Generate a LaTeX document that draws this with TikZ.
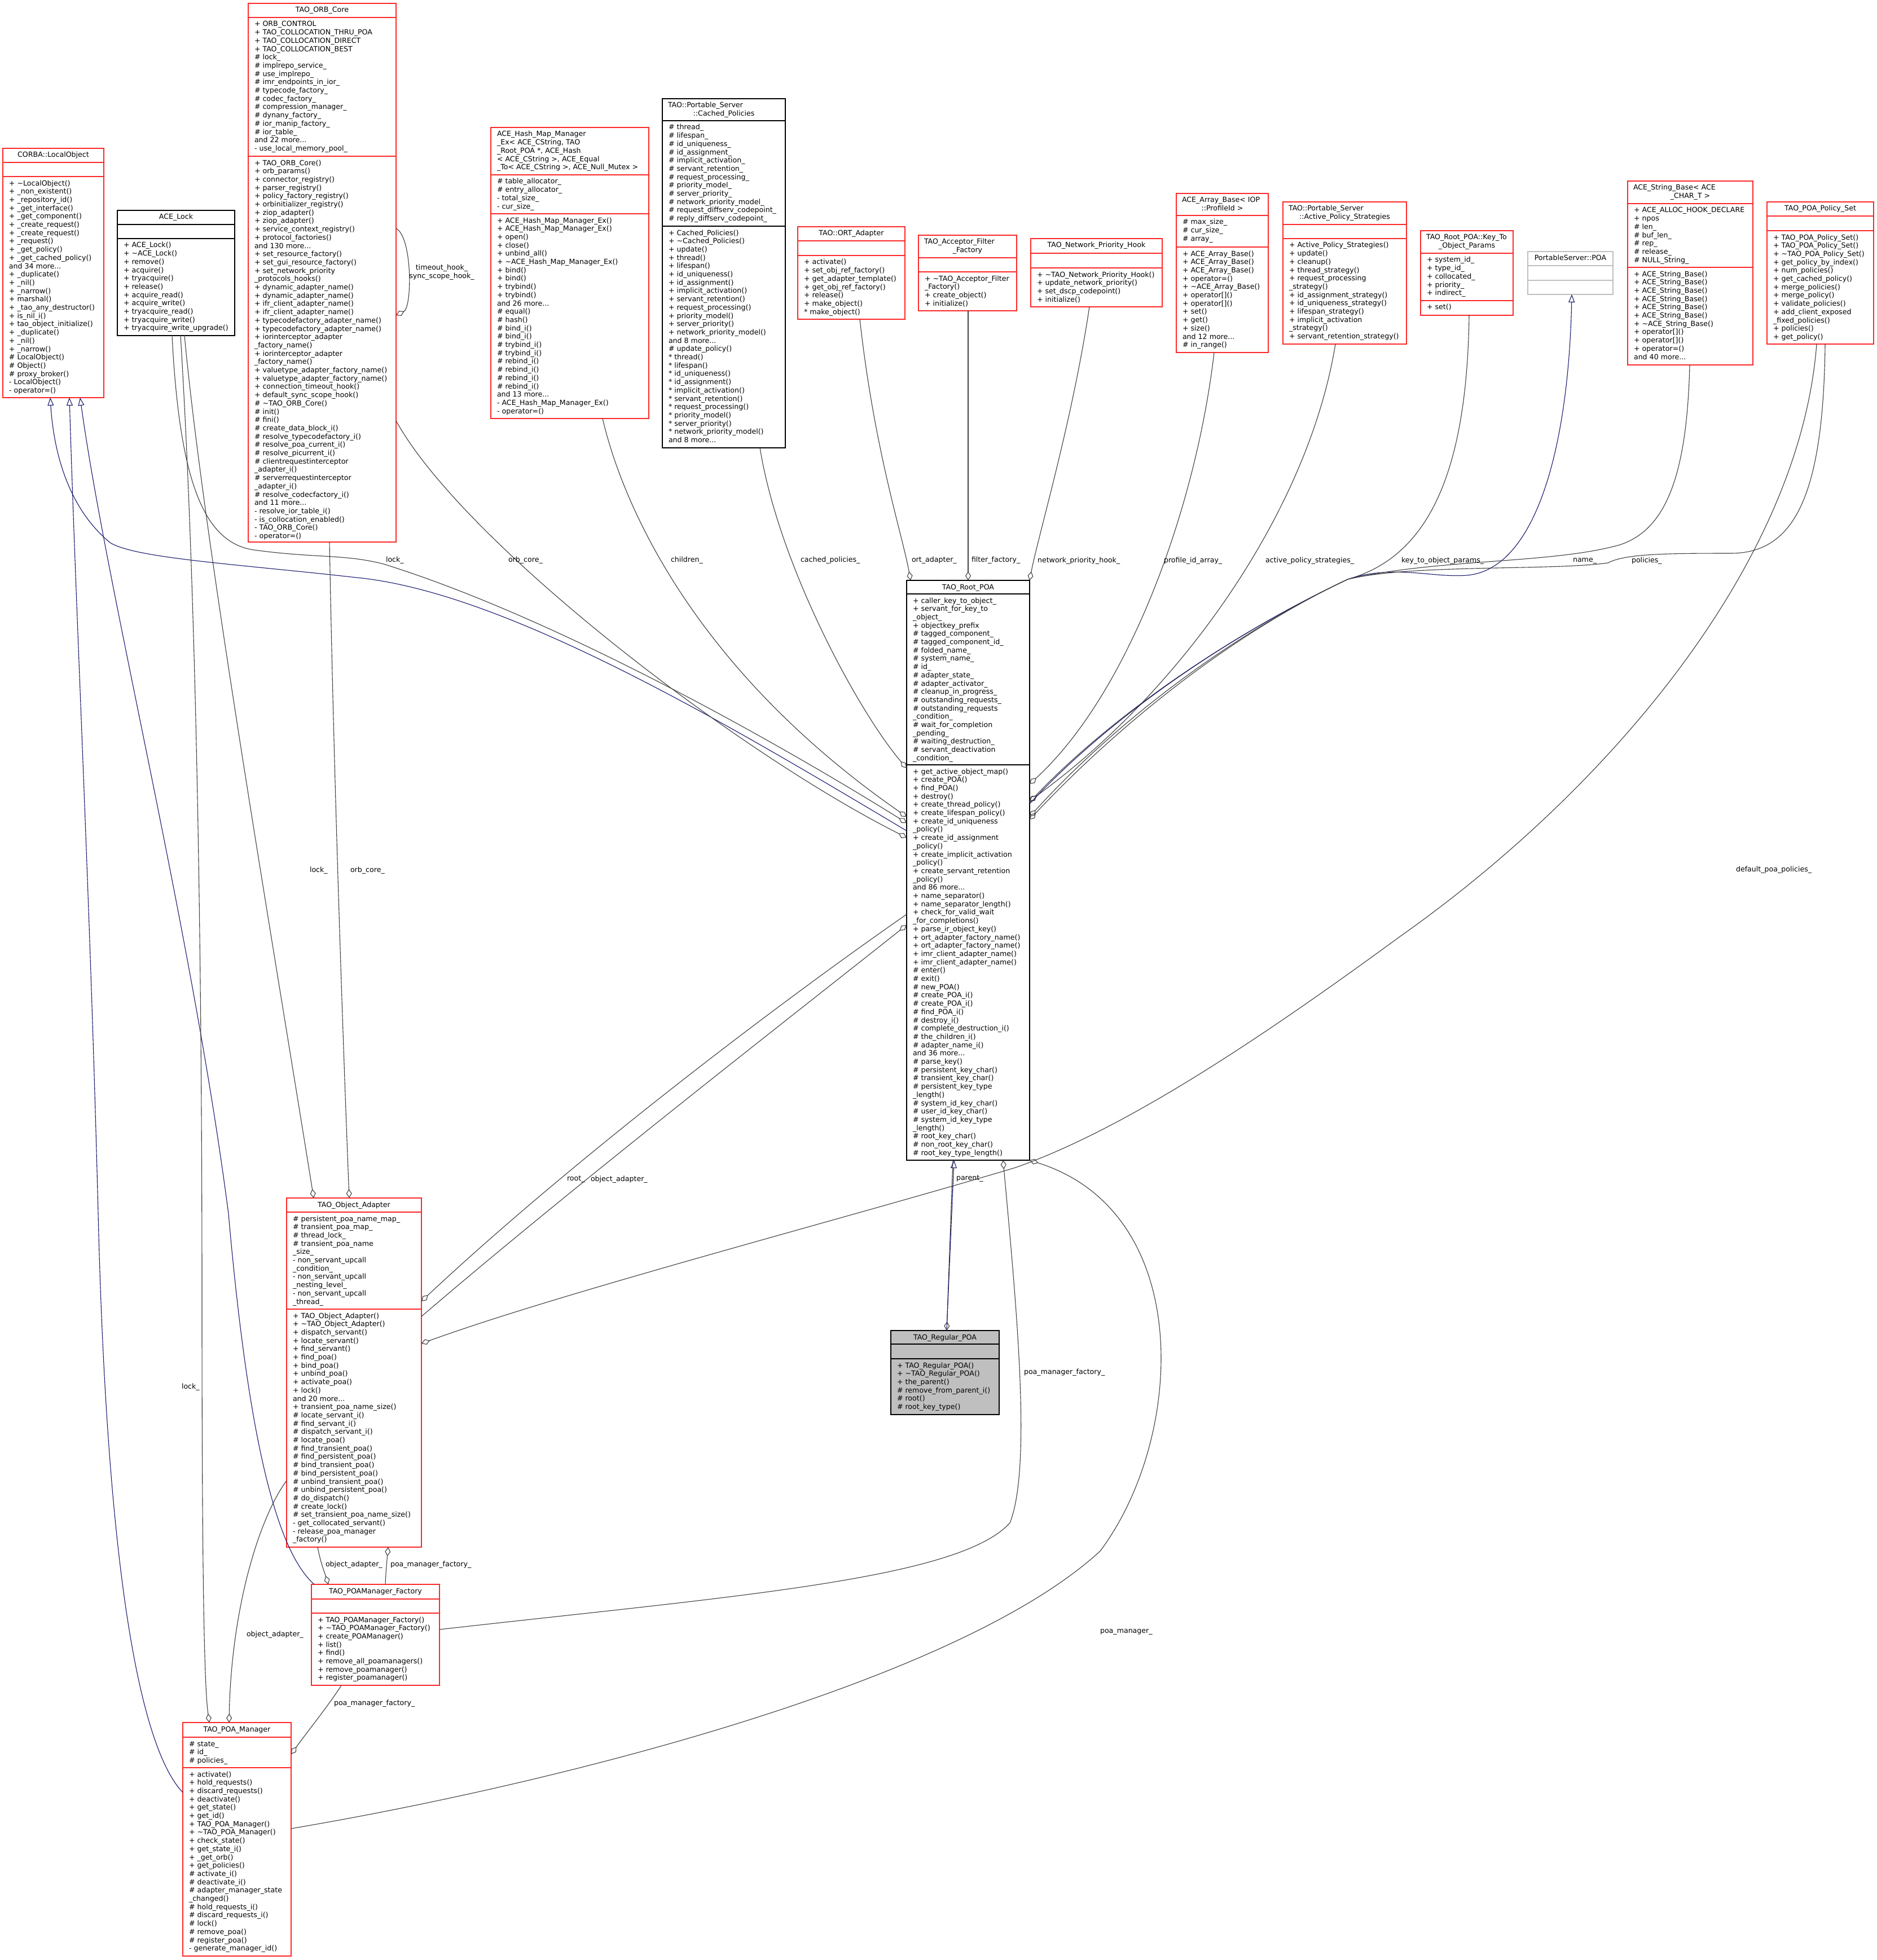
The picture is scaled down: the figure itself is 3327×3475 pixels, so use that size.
\documentclass[tikz,border=0pt]{standalone}
\usepackage{fontspec}
\setmainfont{DejaVu Sans}
\usetikzlibrary{arrows.meta,calc}
\definecolor{boxred}{RGB}{255,40,40}
\definecolor{edgegray}{RGB}{64,64,64}
\definecolor{inhblue}{RGB}{25,25,112}
\definecolor{greybox}{RGB}{191,191,191}
\newcommand\dgfont{\fontsize{12.6}{14.7}\selectfont}
\newcommand\tld{\textasciitilde}
\newcommand\umlbox[9]{%
  \node[#2, anchor=north west, minimum width={(#4-#3)*1pt}, minimum height={(#8-#5)*1pt}] (#1) at (#3,#5) {};
  \draw[#9] (#3,#6) -- (#4,#6) (#3,#7) -- (#4,#7);%
}
\newcommand\txtsec[4]{\node[txt, anchor=north west] (#1) at (#2+11,#3+5.7) {\strut #4};}
\newcommand\ttlone[5]{\node[txt, anchor=north] (#1) at ({(#2+#3)/2},#4+5.7) {\strut #5};}
\newcommand\ttltwo[6]{\node[txt, anchor=north west] (#1a) at (#2+10,#4+5.7) {\strut #5};
  \node[txt, anchor=north] (#1b) at ({(#2+#3)/2},#4+20.4) {\strut #6};}
\newcommand\elab[4]{\node[txt, anchor=west] (#1) at (#2,#3) {#4};}
\begin{document}
\begin{tikzpicture}[x=1pt,y=-1pt,
  txt/.style={font=\dgfont, inner sep=0pt, outer sep=0pt, align=left, text=black},
  redbox/.style={draw=boxred, line width=1.5pt, fill=white, inner sep=0pt, outer sep=0pt},
  blkbox/.style={draw=black, line width=1.5pt, fill=white, inner sep=0pt, outer sep=0pt},
  grybox/.style={draw=greybox, line width=1.5pt, fill=white, inner sep=0pt, outer sep=0pt},
  regbox/.style={draw=black, line width=1.5pt, fill=greybox, inner sep=0pt, outer sep=0pt},
  secred/.style={draw=boxred, line width=1.5pt},
  secblk/.style={draw=black, line width=1.5pt},
  secgry/.style={draw=greybox, line width=1.5pt},
  use/.style={draw=edgegray, line width=1.1pt},
  agg/.style={use, -{Diamond[open, length=16pt, width=10pt]}},
  inh/.style={draw=inhblue, line width=1.1pt, -{Triangle[open, length=14pt, width=11pt]}}]
\useasboundingbox (0,0) rectangle (3327,3475);
\fill[white] (0,0) rectangle (3327,3475);

% ---------------- boxes ----------------
\umlbox{lo}{redbox}{5}{184}{263}{288}{313}{705}{secred}
\ttlone{lo-t}{5}{184}{263}{CORBA::LocalObject}
\txtsec{lo-m}{5}{313}{+ \tld{}LocalObject()\\+ \_non\_existent()\\+ \_repository\_id()\\+ \_get\_interface()\\+ \_get\_component()\\+ \_create\_request()\\+ \_create\_request()\\+ \_request()\\+ \_get\_policy()\\+ \_get\_cached\_policy()\\and 34 more...\\+ \_duplicate()\\+ \_nil()\\+ \_narrow()\\+ marshal()\\+ \_tao\_any\_destructor()\\+ is\_nil\_i()\\+ tao\_object\_initialize()\\+ \_duplicate()\\+ \_nil()\\+ \_narrow()\\\# LocalObject()\\\# Object()\\\# proxy\_broker()\\- LocalObject()\\- operator=()}

\umlbox{lock}{blkbox}{208}{416}{373}{398}{423}{595}{secblk}
\ttlone{lock-t}{208}{416}{373}{ACE\_Lock}
\txtsec{lock-m}{208}{423}{+ ACE\_Lock()\\+ \tld{}ACE\_Lock()\\+ remove()\\+ acquire()\\+ tryacquire()\\+ release()\\+ acquire\_read()\\+ acquire\_write()\\+ tryacquire\_read()\\+ tryacquire\_write()\\+ tryacquire\_write\_upgrade()}

\umlbox{orb}{redbox}{440}{702}{6}{31}{277}{961}{secred}
\ttlone{orb-t}{440}{702}{6}{TAO\_ORB\_Core}
\txtsec{orb-a}{440}{31}{+ ORB\_CONTROL\\+ TAO\_COLLOCATION\_THRU\_POA\\+ TAO\_COLLOCATION\_DIRECT\\+ TAO\_COLLOCATION\_BEST\\\# lock\_\\\# implrepo\_service\_\\\# use\_implrepo\_\\\# imr\_endpoints\_in\_ior\_\\\# typecode\_factory\_\\\# codec\_factory\_\\\# compression\_manager\_\\\# dynany\_factory\_\\\# ior\_manip\_factory\_\\\# ior\_table\_\\and 22 more...\\- use\_local\_memory\_pool\_}
\txtsec{orb-m}{440}{277}{+ TAO\_ORB\_Core()\\+ orb\_params()\\+ connector\_registry()\\+ parser\_registry()\\+ policy\_factory\_registry()\\+ orbinitializer\_registry()\\+ ziop\_adapter()\\+ ziop\_adapter()\\+ service\_context\_registry()\\+ protocol\_factories()\\and 130 more...\\+ set\_resource\_factory()\\+ set\_gui\_resource\_factory()\\+ set\_network\_priority\\\_protocols\_hooks()\\+ dynamic\_adapter\_name()\\+ dynamic\_adapter\_name()\\+ ifr\_client\_adapter\_name()\\+ ifr\_client\_adapter\_name()\\+ typecodefactory\_adapter\_name()\\+ typecodefactory\_adapter\_name()\\+ iorinterceptor\_adapter\\\_factory\_name()\\+ iorinterceptor\_adapter\\\_factory\_name()\\+ valuetype\_adapter\_factory\_name()\\+ valuetype\_adapter\_factory\_name()\\+ connection\_timeout\_hook()\\+ default\_sync\_scope\_hook()\\\# \tld{}TAO\_ORB\_Core()\\\# init()\\\# fini()\\\# create\_data\_block\_i()\\\# resolve\_typecodefactory\_i()\\\# resolve\_poa\_current\_i()\\\# resolve\_picurrent\_i()\\\# clientrequestinterceptor\\\_adapter\_i()\\\# serverrequestinterceptor\\\_adapter\_i()\\\# resolve\_codecfactory\_i()\\and 11 more...\\- resolve\_ior\_table\_i()\\- is\_collocation\_enabled()\\- TAO\_ORB\_Core()\\- operator=()}

\umlbox{hash}{redbox}{870}{1150}{226}{310}{379}{742}{secred}
\node[txt, anchor=north west] (hash-t) at (881,231.7) {\strut ACE\_Hash\_Map\_Manager\\\_Ex< ACE\_CString, TAO\\\_Root\_POA *, ACE\_Hash\\< ACE\_CString >, ACE\_Equal\\\_To< ACE\_CString >, ACE\_Null\_Mutex >};
\txtsec{hash-a}{870}{310}{\# table\_allocator\_\\\# entry\_allocator\_\\- total\_size\_\\- cur\_size\_}
\txtsec{hash-m}{870}{379}{+ ACE\_Hash\_Map\_Manager\_Ex()\\+ ACE\_Hash\_Map\_Manager\_Ex()\\+ open()\\+ close()\\+ unbind\_all()\\+ \tld{}ACE\_Hash\_Map\_Manager\_Ex()\\+ bind()\\+ bind()\\+ trybind()\\+ trybind()\\and 26 more...\\\# equal()\\\# hash()\\\# bind\_i()\\\# bind\_i()\\\# trybind\_i()\\\# trybind\_i()\\\# rebind\_i()\\\# rebind\_i()\\\# rebind\_i()\\\# rebind\_i()\\and 13 more...\\- ACE\_Hash\_Map\_Manager\_Ex()\\- operator=()}

\umlbox{cached}{blkbox}{1174}{1392}{175}{214}{401}{794}{secblk}
\ttltwo{cached-t}{1174}{1392}{175}{TAO::Portable\_Server}{::Cached\_Policies}
\txtsec{cached-a}{1174}{214}{\# thread\_\\\# lifespan\_\\\# id\_uniqueness\_\\\# id\_assignment\_\\\# implicit\_activation\_\\\# servant\_retention\_\\\# request\_processing\_\\\# priority\_model\_\\\# server\_priority\_\\\# network\_priority\_model\_\\\# request\_diffserv\_codepoint\_\\\# reply\_diffserv\_codepoint\_}
\txtsec{cached-m}{1174}{401}{+ Cached\_Policies()\\+ \tld{}Cached\_Policies()\\+ update()\\+ thread()\\+ lifespan()\\+ id\_uniqueness()\\+ id\_assignment()\\+ implicit\_activation()\\+ servant\_retention()\\+ request\_processing()\\+ priority\_model()\\+ server\_priority()\\+ network\_priority\_model()\\and 8 more...\\\# update\_policy()\\{*} thread()\\{*} lifespan()\\{*} id\_uniqueness()\\{*} id\_assignment()\\{*} implicit\_activation()\\{*} servant\_retention()\\{*} request\_processing()\\{*} priority\_model()\\{*} server\_priority()\\{*} network\_priority\_model()\\and 8 more...}

\umlbox{ort}{redbox}{1414}{1604}{402}{427}{453}{566}{secred}
\ttlone{ort-t}{1414}{1604}{402}{TAO::ORT\_Adapter}
\txtsec{ort-m}{1414}{453}{+ activate()\\+ set\_obj\_ref\_factory()\\+ get\_adapter\_template()\\+ get\_obj\_ref\_factory()\\+ release()\\+ make\_object()\\{*} make\_object()}

\umlbox{filter}{redbox}{1628}{1802}{417}{457}{482}{551}{secred}
\ttltwo{filter-t}{1628}{1802}{417}{TAO\_Acceptor\_Filter}{\_Factory}
\txtsec{filter-m}{1628}{482}{+ \tld{}TAO\_Acceptor\_Filter\\\_Factory()\\+ create\_object()\\+ initialize()}

\umlbox{nph}{redbox}{1827}{2060}{423}{449}{475}{544}{secred}
\ttlone{nph-t}{1827}{2060}{423}{TAO\_Network\_Priority\_Hook}
\txtsec{nph-m}{1827}{475}{+ \tld{}TAO\_Network\_Priority\_Hook()\\+ update\_network\_priority()\\+ set\_dscp\_codepoint()\\+ initialize()}

\umlbox{array}{redbox}{2085}{2248}{343}{382}{438}{625}{secred}
\ttltwo{array-t}{2085}{2248}{343}{ACE\_Array\_Base< IOP}{::ProfileId >}
\txtsec{array-a}{2085}{382}{\# max\_size\_\\\# cur\_size\_\\\# array\_}
\txtsec{array-m}{2085}{438}{+ ACE\_Array\_Base()\\+ ACE\_Array\_Base()\\+ ACE\_Array\_Base()\\+ operator=()\\+ \tld{}ACE\_Array\_Base()\\+ operator[]()\\+ operator[]()\\+ set()\\+ get()\\+ size()\\and 12 more...\\\# in\_range()}

\umlbox{aps}{redbox}{2274}{2493}{358}{398}{423}{610}{secred}
\ttltwo{aps-t}{2274}{2493}{358}{TAO::Portable\_Server}{::Active\_Policy\_Strategies}
\txtsec{aps-m}{2274}{423}{+ Active\_Policy\_Strategies()\\+ update()\\+ cleanup()\\+ thread\_strategy()\\+ request\_processing\\\_strategy()\\+ id\_assignment\_strategy()\\+ id\_uniqueness\_strategy()\\+ lifespan\_strategy()\\+ implicit\_activation\\\_strategy()\\+ servant\_retention\_strategy()}

\umlbox{keyto}{redbox}{2518}{2682}{409}{449}{533}{559}{secred}
\ttltwo{keyto-t}{2518}{2682}{409}{TAO\_Root\_POA::Key\_To}{\_Object\_Params}
\txtsec{keyto-a}{2518}{449}{+ system\_id\_\\+ type\_id\_\\+ collocated\_\\+ priority\_\\+ indirect\_}
\txtsec{keyto-m}{2518}{533}{+ set()}

\umlbox{psp}{grybox}{2708}{2859}{446}{471}{497}{522}{secgry}
\ttlone{psp-t}{2708}{2859}{446}{PortableServer::POA}

\umlbox{str}{redbox}{2885}{3107}{321}{361}{474}{647}{secred}
\ttltwo{str-t}{2885}{3107}{321}{ACE\_String\_Base< ACE}{\_CHAR\_T >}
\txtsec{str-a}{2885}{361}{+ ACE\_ALLOC\_HOOK\_DECLARE\\+ npos\\\# len\_\\\# buf\_len\_\\\# rep\_\\\# release\_\\\# NULL\_String\_}
\txtsec{str-m}{2885}{474}{+ ACE\_String\_Base()\\+ ACE\_String\_Base()\\+ ACE\_String\_Base()\\+ ACE\_String\_Base()\\+ ACE\_String\_Base()\\+ ACE\_String\_Base()\\+ \tld{}ACE\_String\_Base()\\+ operator[]()\\+ operator[]()\\+ operator=()\\and 40 more...}

\umlbox{pset}{redbox}{3132}{3321}{358}{383}{409}{610}{secred}
\ttlone{pset-t}{3132}{3321}{358}{TAO\_POA\_Policy\_Set}
\txtsec{pset-m}{3132}{409}{+ TAO\_POA\_Policy\_Set()\\+ TAO\_POA\_Policy\_Set()\\+ \tld{}TAO\_POA\_Policy\_Set()\\+ get\_policy\_by\_index()\\+ num\_policies()\\+ get\_cached\_policy()\\+ merge\_policies()\\+ merge\_policy()\\+ validate\_policies()\\+ add\_client\_exposed\\\_fixed\_policies()\\+ policies()\\+ get\_policy()}

\umlbox{root}{blkbox}{1607}{1825}{1029}{1053}{1356}{2057}{secblk}
\ttlone{root-t}{1607}{1825}{1029}{TAO\_Root\_POA}
\txtsec{root-a}{1607}{1053}{+ caller\_key\_to\_object\_\\+ servant\_for\_key\_to\\\_object\_\\+ objectkey\_prefix\\\# tagged\_component\_\\\# tagged\_component\_id\_\\\# folded\_name\_\\\# system\_name\_\\\# id\_\\\# adapter\_state\_\\\# adapter\_activator\_\\\# cleanup\_in\_progress\_\\\# outstanding\_requests\_\\\# outstanding\_requests\\\_condition\_\\\# wait\_for\_completion\\\_pending\_\\\# waiting\_destruction\_\\\# servant\_deactivation\\\_condition\_}
\txtsec{root-m}{1607}{1356}{+ get\_active\_object\_map()\\+ create\_POA()\\+ find\_POA()\\+ destroy()\\+ create\_thread\_policy()\\+ create\_lifespan\_policy()\\+ create\_id\_uniqueness\\\_policy()\\+ create\_id\_assignment\\\_policy()\\+ create\_implicit\_activation\\\_policy()\\+ create\_servant\_retention\\\_policy()\\and 86 more...\\+ name\_separator()\\+ name\_separator\_length()\\+ check\_for\_valid\_wait\\\_for\_completions()\\+ parse\_ir\_object\_key()\\+ ort\_adapter\_factory\_name()\\+ ort\_adapter\_factory\_name()\\+ imr\_client\_adapter\_name()\\+ imr\_client\_adapter\_name()\\\# enter()\\\# exit()\\\# new\_POA()\\\# create\_POA\_i()\\\# create\_POA\_i()\\\# find\_POA\_i()\\\# destroy\_i()\\\# complete\_destruction\_i()\\\# the\_children\_i()\\\# adapter\_name\_i()\\and 36 more...\\\# parse\_key()\\\# persistent\_key\_char()\\\# transient\_key\_char()\\\# persistent\_key\_type\\\_length()\\\# system\_id\_key\_char()\\\# user\_id\_key\_char()\\\# system\_id\_key\_type\\\_length()\\\# root\_key\_char()\\\# non\_root\_key\_char()\\\# root\_key\_type\_length()}

\umlbox{oa}{redbox}{508}{747}{2124}{2149}{2321}{2743}{secred}
\ttlone{oa-t}{508}{747}{2124}{TAO\_Object\_Adapter}
\txtsec{oa-a}{508}{2149}{\# persistent\_poa\_name\_map\_\\\# transient\_poa\_map\_\\\# thread\_lock\_\\\# transient\_poa\_name\\\_size\_\\- non\_servant\_upcall\\\_condition\_\\- non\_servant\_upcall\\\_nesting\_level\_\\- non\_servant\_upcall\\\_thread\_}
\txtsec{oa-m}{508}{2321}{+ TAO\_Object\_Adapter()\\+ \tld{}TAO\_Object\_Adapter()\\+ dispatch\_servant()\\+ locate\_servant()\\+ find\_servant()\\+ find\_poa()\\+ bind\_poa()\\+ unbind\_poa()\\+ activate\_poa()\\+ lock()\\and 20 more...\\+ transient\_poa\_name\_size()\\\# locate\_servant\_i()\\\# find\_servant\_i()\\\# dispatch\_servant\_i()\\\# locate\_poa()\\\# find\_transient\_poa()\\\# find\_persistent\_poa()\\\# bind\_transient\_poa()\\\# bind\_persistent\_poa()\\\# unbind\_transient\_poa()\\\# unbind\_persistent\_poa()\\\# do\_dispatch()\\\# create\_lock()\\\# set\_transient\_poa\_name\_size()\\- get\_collocated\_servant()\\- release\_poa\_manager\\\_factory()}

\umlbox{fac}{redbox}{552}{779}{2809}{2835}{2860}{2988}{secred}
\ttlone{fac-t}{552}{779}{2809}{TAO\_POAManager\_Factory}
\txtsec{fac-m}{552}{2860}{+ TAO\_POAManager\_Factory()\\+ \tld{}TAO\_POAManager\_Factory()\\+ create\_POAManager()\\+ list()\\+ find()\\+ remove\_all\_poamanagers()\\+ remove\_poamanager()\\+ register\_poamanager()}

\umlbox{pm}{redbox}{324}{516}{3054}{3080}{3134}{3468}{secred}
\ttlone{pm-t}{324}{516}{3054}{TAO\_POA\_Manager}
\txtsec{pm-a}{324}{3080}{\# state\_\\\# id\_\\\# policies\_}
\txtsec{pm-m}{324}{3134}{+ activate()\\+ hold\_requests()\\+ discard\_requests()\\+ deactivate()\\+ get\_state()\\+ get\_id()\\+ TAO\_POA\_Manager()\\+ \tld{}TAO\_POA\_Manager()\\+ check\_state()\\+ get\_state\_i()\\+ \_get\_orb()\\+ get\_policies()\\\# activate\_i()\\\# deactivate\_i()\\\# adapter\_manager\_state\\\_changed()\\\# hold\_requests\_i()\\\# discard\_requests\_i()\\\# lock()\\\# remove\_poa()\\\# register\_poa()\\- generate\_manager\_id()}

\umlbox{reg}{regbox}{1579}{1771}{2359}{2383}{2409}{2508}{secblk}
\ttlone{reg-t}{1579}{1771}{2359}{TAO\_Regular\_POA}
\txtsec{reg-m}{1579}{2409}{+ TAO\_Regular\_POA()\\+ \tld{}TAO\_Regular\_POA()\\+ the\_parent()\\\# remove\_from\_parent\_i()\\\# root()\\\# root\_key\_type()}

% ---------------- connectors ----------------
\draw[agg] (orb.east |- 0,405) .. controls (731,420) and (731,545) .. (orb.east |- 0,559);
\draw[agg] (305,0 |- lock.south) .. controls (318,850) and (360,962) .. (450,975) .. controls (560,990) and (610,982) .. (680,1000) .. controls (1000,1100) and (1400,1330) .. (root.west |- 0,1459);
\draw[inh] (root.west |- 0,1473) .. controls (1300,1290) and (900,1050) .. (632,1024) .. controls (420,1000) and (240,990) .. (195,962) .. controls (120,900) and (95,800) .. (89,0 |- lo.south);
\draw[inh] (pm.west |- 0,3178) .. controls (250,3100) and (190,2800) .. (174,2152) .. controls (160,1600) and (135,1100) .. (123,0 |- lo.south);
\draw[inh] (557,0 |- fac.north) .. controls (490,2750) and (440,2550) .. (405,2152) .. controls (340,1650) and (190,1050) .. (142,0 |- lo.south);
\draw[agg] (320,0 |- lock.south) .. controls (345,1000) and (358,1600) .. (358,2300) .. controls (358,2800) and (362,2990) .. (371,0 |- pm.north);
\draw[agg] (327,0 |- lock.south) .. controls (360,950) and (480,1650) .. (556,0 |- oa.north);
\draw[agg] (584,0 |- orb.south) .. controls (592,1400) and (610,1900) .. (619,0 |- oa.north);
\draw[agg] (orb.east |- 0,746) .. controls (820,960) and (1300,1330) .. (root.west |- 0,1485);
\draw[agg] (1068,0 |- hash.south) .. controls (1110,920) and (1250,1200) .. (root.west |- 0,1448);
\draw[agg] (1347,0 |- cached.south) .. controls (1380,1000) and (1520,1260) .. (root.west |- 0,1362);
\draw[agg] (1524,0 |- ort.south) .. controls (1550,800) and (1600,950) .. (1614,0 |- root.north);
\draw[agg] (1716,0 |- filter.south) -- (1716,0 |- root.north);
\draw[agg] (1931,0 |- nph.south) .. controls (1900,750) and (1840,950) .. (root.north east);
\draw[agg] (2152,0 |- array.south) .. controls (2120,900) and (2000,1230) .. (root.east |- 0,1390);
\draw[agg] (2367,0 |- aps.south) .. controls (2320,900) and (2100,1220) .. (root.east |- 0,1420);
\draw[agg] (2604,0 |- keyto.south) .. controls (2600,860) and (2520,990) .. (2389,1027) .. controls (2150,1140) and (1950,1290) .. (root.east |- 0,1422);
\draw[inh] (root.east |- 0,1425) .. controls (1950,1290) and (2150,1140) .. (2389,1027) .. controls (2470,1000) and (2540,1025) .. (2600,1020) .. controls (2720,1010) and (2780,800) .. (2786,0 |- psp.south);
\draw[agg] (2995,0 |- str.south) .. controls (2990,850) and (2950,940) .. (2871,966) .. controls (2750,1000) and (2550,990) .. (2389,1027) .. controls (2150,1140) and (1950,1310) .. (root.east |- 0,1448);
\draw[agg] (3235,0 |- pset.south) .. controls (3232,880) and (3180,982) .. (3066,981) .. controls (2950,981) and (2880,982) .. (2850,998) .. controls (2750,1012) and (2500,1000) .. (2389,1027) .. controls (2150,1140) and (1950,1320) .. (root.east |- 0,1453);
\draw[agg] (3220,0 |- pset.south) .. controls (3190,1000) and (2850,1400) .. (2482,1660) .. controls (2250,1830) and (2000,2000) .. (1800,2070) .. controls (1500,2160) and (1000,2290) .. (oa.east |- 0,2382);
\draw[agg] (root.west |- 0,1621) .. controls (1350,1800) and (1000,2070) .. (oa.east |- 0,2307);
\draw[agg] (oa.east |- 0,2334) .. controls (1020,2100) and (1380,1820) .. (root.west |- 0,1640);
\draw[agg] (1689,0 |- root.south) -- (1678,0 |- reg.north);
\draw[inh] (1678,0 |- reg.north) -- (1691,0 |- root.south);
\draw[agg] (fac.east |- 0,2889) .. controls (1300,2830) and (1700,2800) .. (1790,2700) .. controls (1830,2600) and (1800,2300) .. (1778,0 |- root.south);
\draw[agg] (pm.east |- 0,3242) .. controls (1000,3160) and (1700,2980) .. (1950,2750) .. controls (2100,2550) and (2120,2150) .. (root.south east);
\draw[agg] (563,0 |- oa.south) .. controls (568,2770) and (576,2790) .. (582,0 |- fac.north);
\draw[agg] (683,0 |- fac.north) .. controls (684,2785) and (686,2765) .. (688,0 |- oa.south);
\draw[agg] (605,0 |- fac.south) .. controls (585,3020) and (545,3070) .. (pm.east |- 0,3110);
\draw[agg] (oa.west |- 0,2625) .. controls (460,2690) and (410,2850) .. (406,0 |- pm.north);

% ---------------- connector labels ----------------
\node[txt, align=center] (l-hooks) at (783,483) {timeout\_hook\_\\sync\_scope\_hook\_};
\elab{l1}{684}{993}{lock\_}
\elab{l2}{901}{993}{orb\_core\_}
\elab{l3}{1189}{993}{children\_}
\elab{l4}{1419}{993}{cached\_policies\_}
\elab{l5}{1616}{993}{ort\_adapter\_}
\elab{l6}{1722}{993}{filter\_factory\_}
\elab{l7}{1839}{994}{network\_priority\_hook\_}
\elab{l8}{2063}{994}{profile\_id\_array\_}
\elab{l9}{2243}{994}{active\_policy\_strategies\_}
\elab{l10}{2484}{994}{key\_to\_object\_params\_}
\elab{l11}{2788}{994}{name\_}
\elab{l12}{2892}{994}{policies\_}
\elab{l13}{3077}{1542}{default\_poa\_policies\_}
\elab{l14}{549}{1543}{lock\_}
\elab{l15}{621}{1543}{orb\_core\_}
\elab{l16}{1005}{2091}{root\_}
\elab{l17}{1047}{2091}{object\_adapter\_}
\elab{l18}{1695}{2090}{parent\_}
\elab{l19}{1815}{2433}{poa\_manager\_factory\_}
\elab{l20}{1950}{2893}{poa\_manager\_}
\elab{l21}{577}{2774}{object\_adapter\_}
\elab{l22}{692}{2774}{poa\_manager\_factory\_}
\elab{l23}{437}{2898}{object\_adapter\_}
\elab{l24}{592}{3020}{poa\_manager\_factory\_}
\elab{l25}{322}{2459}{lock\_}
\end{tikzpicture}
\end{document}
